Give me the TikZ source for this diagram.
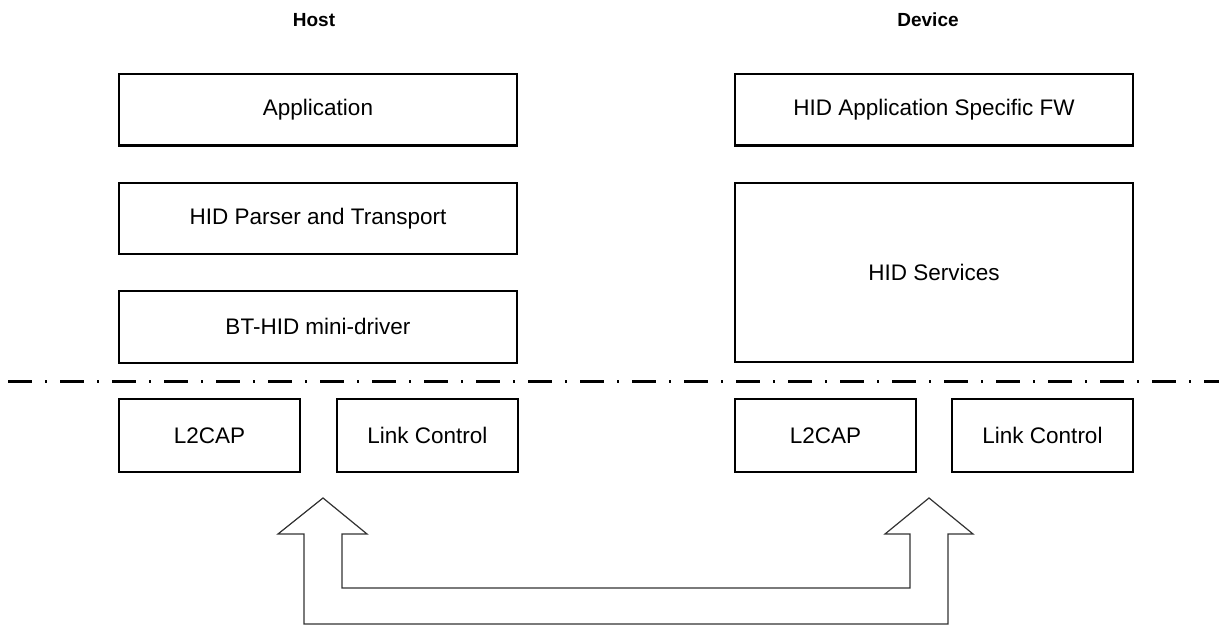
\documentclass[tikz,border=0pt]{standalone}
\usepackage{fontspec}
\setmainfont{Liberation Sans}
\usetikzlibrary{positioning}
\definecolor{ink}{RGB}{0,0,0}
\definecolor{pipe}{RGB}{50,50,50}

\begin{document}
\begin{tikzpicture}[x=0.5pt,y=-0.5pt,
    layer/.style={draw=ink,line width=1pt,inner sep=0pt,minimum width=199pt,minimum height=35.75pt,
      font=\fontsize{11.25}{13.5}\selectfont,anchor=north west},
    half/.style={layer,minimum width=90.5pt,minimum height=36.5pt},
    side/.style={font=\fontsize{9.5}{11}\selectfont\bfseries}]
  \useasboundingbox (0,0) rectangle (1231,626);
  % titles
  \node[side] (host) at (314,20) {Host};
  \node[side] (dev) at (928,20) {Device};
  % host stack
  \node[layer] (app) at (118,73) {Application};
  \node[layer,below=17.5pt of app] (parser) {HID Parser and Transport};
  \node[layer,below=17.5pt of parser] (mini) {BT-HID mini-driver};
  % device stack
  \node[layer] (fw) at (734,73) {HID Application Specific FW};
  \node[layer,minimum height=89.5pt,below=17.5pt of fw] (svc) {HID Services};
  % host/controller boundary
  \draw[line width=1.5pt,dash pattern=on 12pt off 6.5pt on 1pt off 6.5pt] (8,381) -- (1219,381);
  % lower layers
  \node[half] (l2h) at (118,398) {L2CAP};
  \node[half,right=17.5pt of l2h] (lch) {Link Control};
  \node[half] (l2d) at (734,398) {L2CAP};
  \node[half,right=17pt of l2d] (lcd) {Link Control};
  % radio link
  \draw[pipe,line width=0.6pt,line join=miter]
    (304,534) -- (304,624) -- (948,624) -- (948,534) -- (973,534) -- (929,498)
    -- (885,534) -- (910,534) -- (910,588) -- (342,588) -- (342,534) -- (367,534)
    -- (323,498) -- (278,534) -- cycle;
\end{tikzpicture}
\end{document}
